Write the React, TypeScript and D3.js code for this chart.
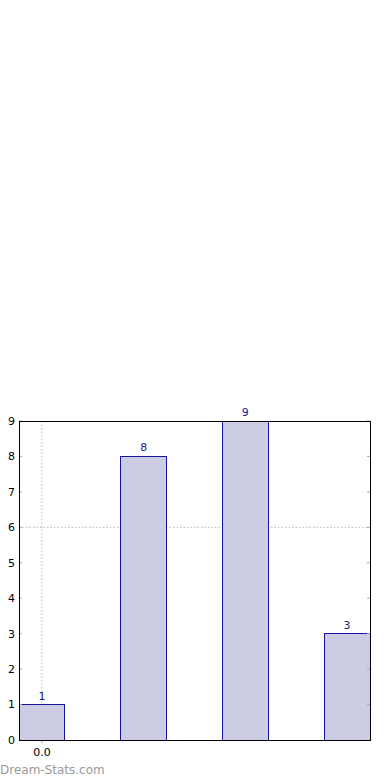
import React from "react";
import * as d3 from "d3";

const categories = [0, 1, 2, 3];
const values = [1, 8, 9, 3];
const yTicks = [0, 1, 2, 3, 4, 5, 6, 7, 8, 9];
const xTickLabels = ["0.0"];
const watermark = "Dream-Stats.com";

const W = 390;
const H = 780;
const margin = { left: 19, right: 20, top: 421, bottom: 40 };
const barWidth = 0.45;

export default function App() {
  const x = d3
    .scaleLinear()
    .domain([-barWidth / 2, 3 + barWidth / 2])
    .range([margin.left, W - margin.right]);
  const y = d3
    .scaleLinear()
    .domain([0, 9])
    .range([H - margin.bottom, margin.top]);
  const font = "DejaVu Sans, sans-serif";
  const x0 = x.range()[0];
  const x1 = x.range()[1];
  const yb = y(0);
  const yt = y(9);
  return (
    <svg
      width={W}
      height={H}
      style={{ position: "absolute", left: 0, top: 0 }}
      fontFamily={font}
    >
      <rect x={0} y={0} width={W} height={H} fill="#fff" />
      {/* grid lines */}
      <line x1={x(0)} x2={x(0)} y1={yt} y2={yb} stroke="#bbb" strokeDasharray="1.5,2" />
      <line x1={x0} x2={x1} y1={y(6)} y2={y(6)} stroke="#bbb" strokeDasharray="1.5,2" />
      {/* bars */}
      {categories.map((c, i) => (
        <g key={c}>
          <rect
            x={x(c - barWidth / 2)}
            y={y(values[i])}
            width={x(c + barWidth / 2) - x(c - barWidth / 2)}
            height={yb - y(values[i])}
            fill="#ccccE4"
            stroke="#14149a"
            strokeWidth={1}
            shapeRendering="crispEdges"
          />
          <text
            x={x(c)}
            y={y(values[i]) - 5}
            textAnchor="middle"
            fontSize={11}
            fill="#1a1a8c"
          >
            {values[i]}
          </text>
        </g>
      ))}
      {/* ticks */}
      {yTicks.map((t) => (
        <g key={t}>
          <line x1={x0} x2={x0 + 3} y1={y(t)} y2={y(t)} stroke="#aaa" />
          <line x1={x1 - 3} x2={x1} y1={y(t)} y2={y(t)} stroke="#aaa" />
          <text
            x={x0 - 4}
            y={y(t)}
            dy="0.35em"
            textAnchor="end"
            fontSize={11}
            fill="#000"
          >
            {t}
          </text>
        </g>
      ))}
      <line x1={x(0)} x2={x(0)} y1={yb} y2={yb + 3} stroke="#aaa" />
      <text x={x(0)} y={yb + 8} dy="0.71em" textAnchor="middle" fontSize={11} fill="#000">
        {xTickLabels[0]}
      </text>
      {/* frame */}
      <rect
        x={x0}
        y={yt}
        width={x1 - x0}
        height={yb - yt}
        fill="none"
        stroke="#000"
        strokeWidth={1}
        shapeRendering="crispEdges"
      />
      <text x={0} y={774} fontSize={12} fill="#999">
        {watermark}
      </text>
    </svg>
  );
}
